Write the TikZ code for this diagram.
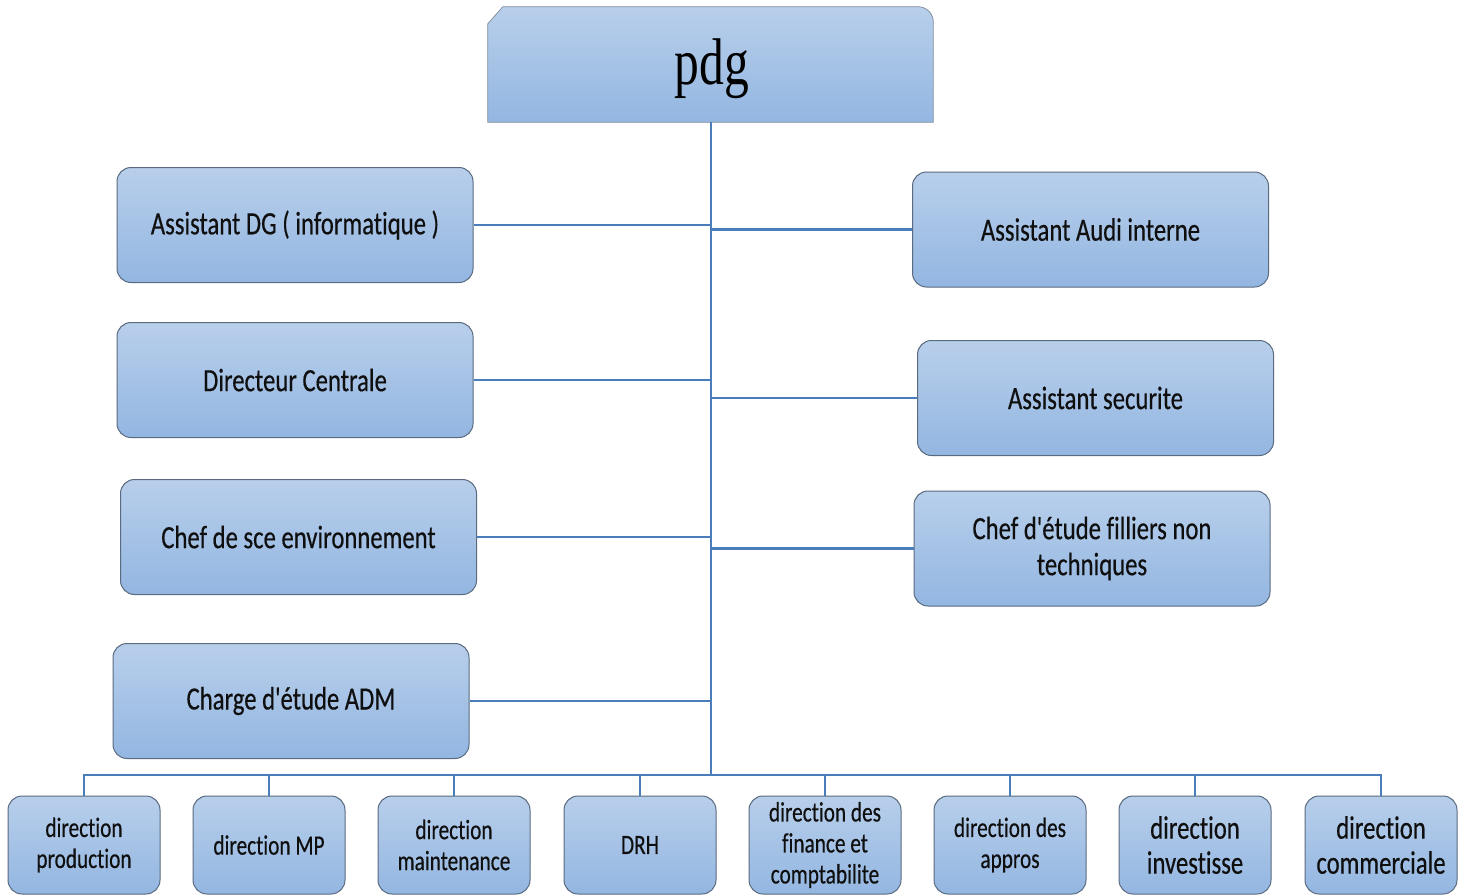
\documentclass[tikz,border=0pt]{standalone}
\usepackage{fontspec}
\newfontfamily\cf[FakeStretch=0.76,FakeBold=0.4,Ligatures=NoCommon]{Carlito}
\newfontfamily\tf[FakeStretch=0.75]{Liberation Serif}
\definecolor{ctop}{RGB}{184,207,235}
\definecolor{cbot}{RGB}{147,182,225}
\definecolor{bordc}{RGB}{90,106,128}
\definecolor{linec}{RGB}{74,126,187}
\definecolor{txt}{RGB}{15,15,15}
\tikzset{
  boxbase/.style={draw=bordc, line width=1pt, top color=ctop, bottom color=cbot, align=center, inner sep=0pt, text=txt},
  sidebox/.style={boxbase, rounded corners=14pt, minimum width=356pt, minimum height=115pt, font=\cf\fontsize{32.5}{36}\selectfont},
  botbox/.style={boxbase, rounded corners=14pt, minimum width=152pt, minimum height=98pt, font=\cf\fontsize{28}{31}\selectfont},
  bigbot/.style={font=\cf\fontsize{32.5}{35}\selectfont},
  conn/.style={draw=linec, line width=2.2pt}
}
\begin{document}
\begin{tikzpicture}[x=1pt,y=-1pt]
\useasboundingbox (0,0) rectangle (1465,895);
% pdg
\node[minimum width=445pt, minimum height=115pt, inner sep=0pt] (pdg) at (710.5,64.5) {};
\fill[top color=ctop, bottom color=cbot, draw=bordc!70, line width=0.8pt]
  (pdg.south west) -- ([yshift=-17pt]pdg.north west) -- ([xshift=15pt]pdg.north west)
  [rounded corners=15pt] -- (pdg.north east) [sharp corners] -- (pdg.south east) -- cycle;
\node[font=\tf\fontsize{66}{70}\selectfont, text=black, inner sep=0pt] (pdgt) at (712,69) {pdg};
% side boxes
\node[sidebox] (l1) at (295,225) {Assistant DG ( informatique )};
\node[sidebox] (l2) at (295,380) {Directeur Centrale};
\node[sidebox] (l3) at (298.5,537) {Chef de sce environnement};
\node[sidebox] (l4) at (291,701) {Charge d'étude ADM};
\node[sidebox] (r1) at (1090.5,229.5) {Assistant Audi interne};
\node[sidebox] (r2) at (1095.5,398) {Assistant securite};
\node[sidebox] (r3) at (1092,548.5) {Chef d'étude filliers non\\techniques};
% bottom boxes
\node[botbox] (b1) at (84,845) {direction\\production};
\node[botbox] (b2) at (269,845) {direction MP};
\node[botbox] (b3) at (454,845) {direction\\maintenance};
\node[botbox] (b4) at (640,845) {DRH};
\node[botbox] (b5) at (825,845) {direction des\\finance et\\comptabilite};
\node[botbox] (b6) at (1010,845) {direction des\\appros};
\node[botbox, bigbot] (b7) at (1195,845) {direction\\investisse};
\node[botbox, bigbot] (b8) at (1381,845) {direction\\commerciale};
% trunk
\coordinate (busc) at (711,775);
\draw[conn] (pdg.south -| busc) -- (busc);
\foreach \n in {l1,l2,l3,l4} \draw[conn] (\n.east) -- (\n.east -| busc);
\foreach \n in {r1,r2,r3} \draw[conn] (\n.west) -- (\n.west -| busc);
\draw[conn] (b1.north) |- (busc);
\draw[conn] (b8.north) |- (busc);
\foreach \n in {b2,b3,b4,b5,b6,b7} \draw[conn] (\n.north) -- (\n.north |- busc);
\end{tikzpicture}
\end{document}
